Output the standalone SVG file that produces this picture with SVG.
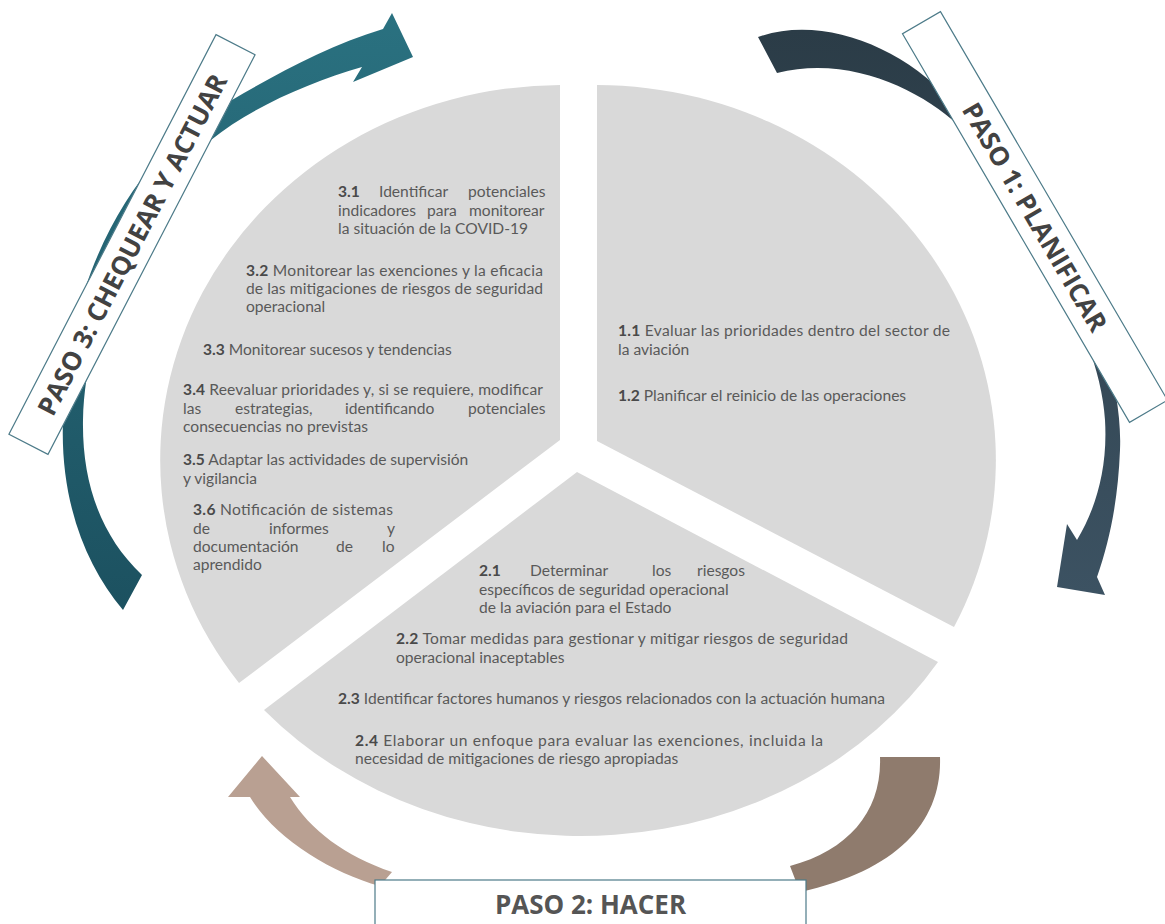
<svg xmlns="http://www.w3.org/2000/svg" width="1165" height="924" viewBox="0 0 1165 924">
<defs>
<linearGradient id="gTeal" x1="0" y1="0" x2="0" y2="1"><stop offset="0" stop-color="#2a7180"/><stop offset="1" stop-color="#1c5160"/></linearGradient>
<linearGradient id="gSlate" x1="0" y1="0" x2="0" y2="1"><stop offset="0" stop-color="#2b3c47"/><stop offset="1" stop-color="#3c5262"/></linearGradient>
<style>
.sec{fill:#d9d9d9}
.t{font-family:Lato,"Open Sans",sans-serif;font-size:15.6px;fill:#595959}
.b{font-weight:bold;fill:#4a4a4a}
.box{fill:#ffffff;stroke:#4d7b89;stroke-width:1.2}
.lab{font-family:"Open Sans","Noto Sans",sans-serif;font-size:26px;font-weight:bold;fill:#424242}
</style>
</defs>
<rect width="1165" height="924" fill="#ffffff"/>

<g id="sector-3">
<path class="sec" d="M560,440 L239,683 A402,375 0 0,1 560,85 Z"/>
<text class="t" y="197"><tspan x="338" class="b">3.1</tspan><tspan x="379">Identificar</tspan><tspan x="468">potenciales</tspan></text>
<text class="t" y="216"><tspan x="338">indicadores</tspan><tspan x="427">para</tspan><tspan x="469">monitorear</tspan></text>
<text class="t" x="338" y="234">la situación de la COVID-19</text>
<text class="t" x="246" y="276" textLength="297" lengthAdjust="spacing"><tspan class="b">3.2</tspan> Monitorear las exenciones y la eficacia</text>
<text class="t" x="246" y="294" textLength="297" lengthAdjust="spacing">de las mitigaciones de riesgos de seguridad</text>
<text class="t" x="246" y="312">operacional</text>
<text class="t" x="203" y="355"><tspan class="b">3.3</tspan> Monitorear sucesos y tendencias</text>
<text class="t" x="183" y="395" textLength="360" lengthAdjust="spacing"><tspan class="b">3.4</tspan> Reevaluar prioridades y, si se requiere, modificar</text>
<text class="t" y="414"><tspan x="183">las</tspan><tspan x="235">estrategias,</tspan><tspan x="345">identificando</tspan><tspan x="468">potenciales</tspan></text>
<text class="t" x="183" y="432">consecuencias no previstas</text>
<text class="t" x="183" y="465"><tspan class="b">3.5</tspan> Adaptar las actividades de supervisión</text>
<text class="t" x="183" y="484">y vigilancia</text>
<text class="t" x="193" y="515" textLength="200" lengthAdjust="spacing"><tspan class="b">3.6</tspan> Notificación de sistemas</text>
<text class="t" y="534"><tspan x="193">de</tspan><tspan x="269">informes</tspan><tspan x="387">y</tspan></text>
<text class="t" y="552"><tspan x="193">documentación</tspan><tspan x="336">de</tspan><tspan x="382">lo</tspan></text>
<text class="t" x="193" y="570">aprendido</text>
</g>

<g id="sector-1">
<path class="sec" d="M597,441 L597,85 A400,375 0 0,1 954,627 Z"/>
<text class="t" x="618" y="336" textLength="332" lengthAdjust="spacing"><tspan class="b">1.1</tspan> Evaluar las prioridades dentro del sector de</text>
<text class="t" x="618" y="355">la aviación</text>
<text class="t" x="618" y="401"><tspan class="b">1.2</tspan> Planificar el reinicio de las operaciones</text>
</g>

<g id="sector-2">
<path class="sec" d="M577,472 L938,662 A420,367 0 0,1 264,710 Z"/>
<text class="t" y="576"><tspan x="479" class="b">2.1</tspan><tspan x="530">Determinar</tspan><tspan x="652">los</tspan><tspan x="697">riesgos</tspan></text>
<text class="t" x="479" y="595">específicos de seguridad operacional</text>
<text class="t" x="479" y="613">de la aviación para el Estado</text>
<text class="t" x="396" y="644" textLength="452" lengthAdjust="spacing"><tspan class="b">2.2</tspan> Tomar medidas para gestionar y mitigar riesgos de seguridad</text>
<text class="t" x="396" y="663">operacional inaceptables</text>
<text class="t" x="338" y="704" textLength="547" lengthAdjust="spacing"><tspan class="b">2.3</tspan> Identificar factores humanos y riesgos relacionados con la actuación humana</text>
<text class="t" x="355" y="746" textLength="468" lengthAdjust="spacing"><tspan class="b">2.4</tspan> Elaborar un enfoque para evaluar las exenciones, incluida la</text>
<text class="t" x="355" y="764">necesidad de mitigaciones de riesgo apropiadas</text>
</g>

<g id="connectors">
<path id="arrow-3" fill="url(#gTeal)" d="M123,610 C85,565 60,500 63,420 C66,260 150,140 232,100 C280,72 330,45 383,29 L392,13 L413,57 L353,82 L362,67 C310,82 250,108 211,140 C140,200 85,320 83,420 C82,482 100,535 142,575 Z"/>
<path id="arrow-1" fill="url(#gSlate)" d="M758,37 C820,15 900,45 950,100 C1030,190 1125,330 1120,450 C1118,500 1110,540 1097,577 L1105,595 L1057,587 L1067,524 L1077,540 C1095,510 1108,470 1105,420 C1100,330 1020,200 958,125 C920,90 850,55 777,73 Z"/>
<path id="arrow-2a" fill="#b9a092" d="M380,886 C330,872 275,838 250,797 L228,797 L262,756 L300,797 L290,797 C310,830 345,856 392,872 Z"/>
<path id="arrow-2b" fill="#8f7b6d" d="M940,757 C942,820 900,870 800,892 L790,866 C850,850 882,810 880,757 Z"/>
</g>

<g id="label-3">
<rect class="box" x="-225" y="-22" width="450" height="44" transform="translate(132,244.5) rotate(-62.6)"/>
<text class="lab" text-anchor="middle" transform="translate(132,244.5) rotate(-62.6)" y="9.5" textLength="380" lengthAdjust="spacingAndGlyphs">PASO 3: CHEQUEAR Y ACTUAR</text>
</g>
<g id="label-1">
<rect class="box" x="-225" y="-22" width="450" height="44" transform="translate(1035,217) rotate(59.7)"/>
<text class="lab" text-anchor="middle" transform="translate(1035,217) rotate(59.7)" y="9.5" textLength="260" lengthAdjust="spacingAndGlyphs">PASO 1: PLANIFICAR</text>
</g>
<g id="label-2">
<rect class="box" x="375" y="880" width="431" height="60"/>
<text class="lab" x="590.5" y="914" text-anchor="middle" style="fill:#555555">PASO 2: HACER</text>
</g>
</svg>
